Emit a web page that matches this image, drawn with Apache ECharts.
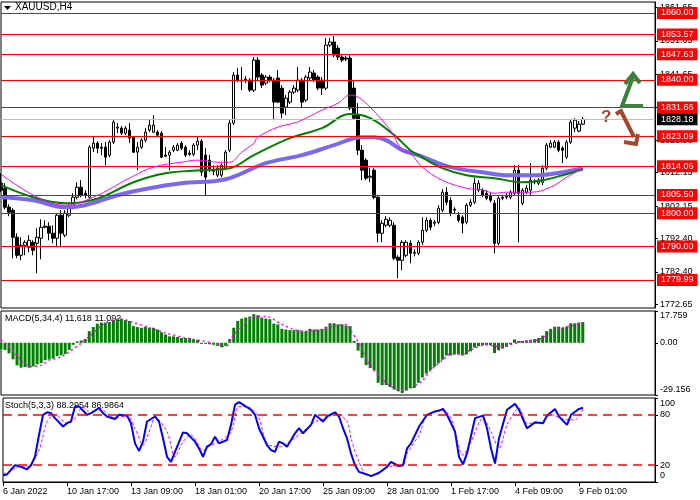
<!DOCTYPE html>
<html>
<head>
<meta charset="utf-8">
<script src="https://cdn.jsdelivr.net/npm/echarts@6/dist/echarts.min.js"></script>
<style>
  html, body { margin: 0; padding: 0; background: #fff; }
  #chart { width: 700px; height: 500px; }
</style>
</head>
<body>
<div id="chart"></div>
<script>
// XAUUSD H4 - candles [open, close, low, high], one per bar
var ohlc = [
  [1809.0,1806.9,1806.3,1812.0],[1807.5,1801.8,1801.2,1809.0],[1801.8,1800.3,1799.1,1802.7],[1800.9,1792.8,1786.5,1801.5],
  [1792.8,1787.4,1786.5,1794.0],[1787.4,1790.4,1785.9,1792.8],[1790.4,1791.3,1787.4,1791.9],[1789.8,1791.9,1788.3,1793.4],
  [1791.3,1788.9,1787.4,1791.9],[1791.0,1792.8,1782.0,1795.5],[1792.5,1795.8,1786.2,1798.2],[1795.8,1796.1,1795.5,1797.9],
  [1796.1,1794.0,1791.9,1797.3],[1794.0,1792.5,1791.0,1796.4],[1792.5,1799.4,1789.8,1800.0],[1799.4,1794.0,1789.8,1800.9],
  [1793.4,1800.0,1792.8,1800.9],[1799.4,1801.8,1798.8,1803.0],[1801.8,1804.8,1801.2,1806.0],[1804.8,1807.8,1804.2,1809.3],
  [1807.8,1805.4,1804.8,1809.9],[1806.0,1805.4,1804.5,1806.9],[1804.8,1819.8,1804.2,1820.4],[1819.5,1821.0,1818.3,1822.8],
  [1821.0,1819.5,1818.0,1821.6],[1819.8,1819.5,1817.4,1821.0],[1819.8,1816.8,1814.4,1821.3],[1817.4,1821.3,1816.8,1821.9],
  [1821.3,1827.3,1820.7,1827.9],[1825.5,1825.8,1824.0,1827.0],[1825.5,1824.0,1823.4,1826.1],[1824.0,1825.5,1823.4,1826.1],
  [1824.9,1822.5,1821.0,1827.0],[1822.8,1818.3,1818.0,1822.8],[1818.3,1819.8,1812.9,1821.3],[1819.8,1821.9,1819.2,1822.5],
  [1821.9,1824.3,1821.3,1825.5],[1824.9,1826.4,1824.3,1827.9],[1824.3,1826.4,1824.0,1829.4],[1824.3,1823.4,1822.8,1824.9],
  [1824.0,1816.8,1816.5,1824.6],[1817.4,1817.1,1816.8,1819.8],[1817.4,1818.3,1812.9,1818.9],[1818.9,1819.8,1818.3,1820.4],
  [1818.9,1820.4,1818.6,1821.0],[1821.0,1819.5,1818.9,1821.6],[1819.8,1817.4,1816.8,1820.4],[1818.0,1817.7,1817.1,1818.9],
  [1817.7,1820.4,1817.1,1821.0],[1820.4,1821.6,1818.9,1822.8],[1821.6,1812.3,1811.1,1822.2],[1817.4,1810.8,1805.4,1819.5],
  [1815.9,1812.9,1812.3,1817.4],[1812.9,1812.6,1811.4,1814.4],[1811.4,1813.5,1810.8,1814.4],[1811.4,1814.4,1810.8,1815.0],
  [1813.5,1818.3,1812.9,1818.9],[1818.9,1827.0,1818.3,1827.9],[1827.0,1841.4,1826.4,1842.3],[1841.4,1839.9,1839.3,1843.5],
  [1839.9,1839.6,1836.9,1843.8],[1839.9,1840.2,1839.0,1841.1],[1839.9,1836.9,1836.3,1840.5],[1836.9,1845.9,1836.3,1846.8],
  [1845.9,1840.8,1839.9,1846.8],[1841.4,1838.4,1837.5,1842.0],[1839.0,1840.8,1838.4,1841.4],[1840.8,1839.9,1839.3,1841.4],
  [1839.9,1833.3,1827.9,1840.5],[1840.5,1833.3,1833.0,1842.9],[1837.5,1830.0,1828.5,1838.4],[1831.8,1834.5,1829.4,1835.4],
  [1833.3,1836.3,1832.7,1836.9],[1836.3,1837.5,1835.7,1838.4],[1836.9,1839.9,1836.3,1843.8],[1839.9,1833.3,1831.5,1840.5],
  [1833.9,1840.8,1833.3,1841.4],[1840.5,1842.3,1839.9,1843.8],[1842.0,1839.9,1839.3,1842.9],[1840.8,1837.5,1836.9,1841.4],
  [1839.9,1837.5,1835.4,1840.8],[1837.5,1850.4,1836.9,1852.5],[1850.4,1851.3,1849.8,1852.5],[1851.3,1847.4,1846.8,1853.1],
  [1849.5,1846.8,1845.9,1850.4],[1846.8,1845.9,1845.3,1847.4],[1846.5,1846.2,1845.6,1847.1],[1846.5,1831.5,1830.9,1847.4],
  [1837.5,1828.5,1827.9,1839.9],[1829.4,1818.9,1817.4,1833.0],[1818.9,1812.9,1809.9,1820.4],[1815.9,1810.5,1809.9,1816.5],
  [1810.8,1811.1,1809.3,1813.5],[1812.9,1804.8,1804.2,1813.5],[1804.8,1794.0,1791.3,1805.4],[1794.0,1797.0,1791.3,1797.9],
  [1796.4,1798.2,1795.8,1799.1],[1796.4,1797.9,1795.8,1798.8],[1796.4,1786.5,1785.9,1797.3],[1786.8,1785.9,1780.5,1787.4],
  [1785.9,1791.3,1782.9,1791.9],[1787.4,1791.3,1786.8,1791.9],[1791.0,1788.0,1785.0,1791.9],[1788.0,1788.3,1787.1,1789.2],
  [1788.0,1791.3,1787.4,1791.9],[1791.3,1794.9,1790.4,1798.8],[1794.9,1797.9,1794.3,1798.8],[1797.9,1795.8,1794.9,1798.5],
  [1797.0,1797.3,1796.1,1797.9],[1797.3,1801.5,1796.7,1802.4],[1800.9,1806.3,1800.3,1807.2],[1806.3,1803.3,1802.4,1807.8],
  [1803.9,1800.0,1799.1,1804.8],[1800.9,1801.2,1800.0,1801.8],[1799.4,1797.9,1797.3,1800.3],[1798.8,1797.0,1794.0,1799.4],
  [1797.3,1802.4,1796.7,1803.0],[1802.4,1803.3,1801.8,1804.2],[1803.3,1809.0,1802.7,1810.5],[1806.9,1809.0,1806.3,1809.9],
  [1806.9,1805.4,1804.8,1807.5],[1806.0,1804.5,1803.9,1806.9],[1805.4,1803.9,1803.3,1806.0],[1803.0,1791.0,1788.0,1803.9],
  [1791.0,1804.5,1790.4,1805.1],[1804.5,1804.8,1803.9,1805.4],[1804.8,1805.1,1804.2,1806.0],[1804.8,1806.3,1804.2,1806.9],
  [1806.0,1812.9,1805.4,1814.4],[1812.9,1806.0,1791.3,1814.4],[1803.0,1806.9,1802.4,1807.5],[1806.3,1807.5,1805.7,1808.4],
  [1806.9,1809.9,1805.4,1815.0],[1809.3,1809.6,1808.7,1810.2],[1809.0,1809.9,1808.4,1810.5],[1809.3,1813.5,1808.4,1814.4],
  [1813.5,1820.4,1812.9,1821.0],[1819.8,1821.0,1819.5,1821.9],[1819.8,1821.3,1819.5,1821.9],[1821.3,1818.9,1818.3,1821.9],
  [1819.5,1818.9,1815.0,1820.1],[1816.8,1821.3,1816.2,1821.9],[1821.3,1827.3,1820.7,1828.2],[1825.5,1827.9,1824.3,1828.5],
  [1824.6,1826.7,1824.3,1827.6],[1826.7,1828.18,1826.4,1828.8]
];

// moving averages as [bar, price]
var maFast = [[0,1811.7],[9,1804.8],[16,1802.4],[23,1804.8],[32,1810.5],[38,1813.8],[45,1815.3],[49,1815.9],[54,1815.3],
  [57,1815.3],[60,1818.3],[63,1821.0],[64,1822.8],[69,1825.8],[73,1827.0],[75,1827.9],[80,1830.9],[84,1833.0],[87,1835.4],
  [89,1834.8],[92,1831.8],[97,1824.9],[100,1818.9],[102,1818.0],[105,1813.8],[110,1809.9],[116,1807.5],[120,1807.0],
  [123,1806.0],[126,1806.3],[132,1806.3],[137,1807.8],[141,1810.8],[145,1813.5]];
var maMid = [[0,1808.4],[8,1804.8],[16,1803.0],[20,1803.3],[25,1804.8],[33,1809.3],[41,1812.0],[50,1812.9],[57,1813.5],
  [63,1817.4],[72,1822.5],[80,1825.5],[87,1829.7],[92,1828.5],[98,1823.4],[102,1818.9],[104,1817.4],[110,1813.5],
  [116,1811.4],[123,1810.5],[130,1809.3],[135,1809.9],[140,1811.4],[145,1813.2]];
var maSlow = [[0,1804.8],[8,1803.9],[16,1801.8],[21,1802.4],[29,1805.4],[37,1807.5],[45,1809.0],[56,1810.2],[66,1815.0],
  [75,1817.4],[83,1820.4],[90,1822.8],[93,1822.8],[96,1821.9],[100,1818.9],[104,1817.4],[112,1813.8],[120,1812.3],
  [126,1811.4],[134,1811.4],[140,1812.3],[145,1813.5]];

// MACD(5,34,4) histogram, one per bar
var macdHist = [-3.6,-4.0,-5.9,-9.2,-12.6,-13.9,-13.5,-13.9,-13.2,-12.0,-11.3,-9.7,-9.3,-8.8,-7.4,-6.9,-6.3,-4.0,-1.1,0.8,
  1.3,2.1,6.5,8.8,10.7,11.3,11.3,11.6,12.8,13.2,13.5,12.8,12.2,9.3,8.8,8.4,8.8,8.4,8.4,7.4,
  5.9,4.6,3.6,3.6,3.2,2.7,2.7,2.7,2.1,1.7,-0.6,-0.6,-0.8,-1.1,-1.7,-2.5,-1.7,2.1,8.4,12.2,
  13.5,14.1,14.7,16.0,15.4,14.1,13.5,13.2,10.7,10.3,7.8,7.4,7.1,7.1,7.1,6.5,6.5,7.8,7.4,7.4,
  7.8,9.0,10.9,10.9,10.3,10.3,9.7,9.3,1.0,-4.4,-8.4,-12.4,-14.1,-15.3,-22.3,-23.6,-23.6,-24.8,-26.1,-27.1,
  -28.0,-26.7,-25.4,-25.2,-22.3,-19.4,-17.2,-15.3,-13.4,-11.4,-9.5,-7.1,-7.1,-6.5,-6.5,-7.1,-6.5,-4.8,-2.7,-1.9,
  -1.3,-1.3,-1.3,-5.7,-4.2,-3.2,-2.3,-0.8,1.9,1.0,1.0,1.3,1.7,2.1,2.7,4.0,6.5,7.8,9.0,9.0,
  8.4,9.0,10.9,10.9,11.3,11.618];
var macdSignal = [[0,1.7],[2,-2.1],[5,-9.7],[7,-13.2],[10,-12.6],[12,-9.7],[15,-7.8],[17,-5.0],[20,-0.2],[22,3.6],
  [25,9.3],[27,12.2],[30,13.2],[33,11.3],[37,8.4],[41,5.5],[46,2.7],[50,1.1],[53,-0.2],[56,-2.1],[58,4.6],[61,11.3],
  [63,14.5],[66,14.7],[70,10.3],[73,7.4],[76,6.5],[80,7.4],[83,9.3],[86,10.3],[87,7.4],[89,0.6],[90,-4.0],[92,-12.6],
  [95,-20.2],[97,-24.0],[100,-26.5],[102,-25.4],[105,-21.2],[107,-15.4],[110,-9.7],[112,-6.3],[115,-6.3],[117,-4.0],
  [121,-1.1],[124,-2.1],[127,-1.1],[130,0.8],[134,1.7],[137,5.5],[140,8.4],[144,10.3],[145,11.092]];

// Stoch(5,3,3)
var stochMain = [[0,8],[1,9],[3,20],[4,19],[6,15],[7,20],[8,30],[9,56],[10,80],[11,83],[12,82],[13,76],[15,66],[16,70],
  [17,72],[18,90],[19,90],[21,80],[22,82],[24,88],[25,82],[26,78],[28,75],[29,80],[31,79],[32,70],[33,46],[34,37],
  [35,48],[36,72],[38,78],[39,72],[40,52],[41,30],[42,24],[43,36],[45,59],[46,58],[48,48],[49,40],[50,30],[51,42],
  [52,45],[53,54],[54,46],[56,50],[57,68],[58,92],[59,95],[60,92],[62,86],[63,80],[64,64],[66,44],[67,38],[68,36],
  [69,48],[70,46],[71,42],[73,58],[74,64],[75,58],[77,68],[78,80],[80,72],[81,78],[83,83],[84,78],[85,64],[86,52],
  [87,34],[88,20],[89,12],[91,9],[92,7],[94,11],[96,18],[97,24],[99,19],[100,20],[101,40],[102,46],[103,56],[104,66],
  [106,80],[107,82],[108,84],[109,85],[110,87],[111,80],[113,60],[114,30],[115,21],[116,34],[118,76],[120,79],[121,64],
  [122,40],[123,22],[124,52],[126,86],[128,93],[129,86],[131,64],[133,71],[135,70],[136,79],[138,87],[139,78],[141,68],
  [142,80],[144,87],[145,88.2954]];
var stochSignal = [[0,10],[1,11],[4,18],[6,18],[9,38],[11,72],[13,80],[16,70],[18,76],[20,89],[22,82],[24,88],[26,82],
  [28,76],[31,79],[33,64],[35,44],[37,66],[38,77],[41,60],[43,30],[45,48],[47,56],[50,38],[52,44],[54,48],[57,60],
  [59,90],[62,88],[64,76],[66,46],[69,42],[71,46],[75,60],[78,72],[81,76],[83,82],[86,72],[87,52],[89,24],[91,8],
  [94,10],[96,18],[100,20],[101,34],[104,56],[106,79],[110,85],[112,76],[115,32],[117,48],[120,76],[122,60],[124,40],
  [126,68],[129,88],[131,70],[134,70],[137,80],[141,74],[143,74],[145,86.9864]];

var priceTicks = [1861.65, 1851.65, 1841.65, 1831.65, 1821.90, 1812.15, 1802.15, 1792.40, 1782.40, 1772.65];
var levels = [1860.00, 1853.57, 1847.63, 1840.00, 1831.66, 1823.09, 1814.06, 1805.50, 1800.00, 1790.00, 1779.99];
var lastPrice = 1828.18;
var macdTicks = [-29.156, 0, 17.759];
var stochTicks = [0, 20, 80, 100];
var xTickLabels = ['6 Jan 2022', '10 Jan 17:00', '13 Jan 09:00', '18 Jan 01:00', '20 Jan 17:00',
  '25 Jan 09:00', '28 Jan 01:00', '1 Feb 17:00', '4 Feb 09:00', '9 Feb 01:00'];
var xTickStep = 16;
var totalSlots = 164; // bars plus the empty shift on the right

var FONT = 'Liberation Sans';
var categories = [];
for (var i = 0; i < totalSlots; i++) {
  categories.push(i % xTickStep === 0 && i / xTickStep < xTickLabels.length ? xTickLabels[i / xTickStep] : '');
}
function tickInt(index) {
  return index % xTickStep === 0 && index / xTickStep < xTickLabels.length;
}

var levelLines = levels.map(function (v) {
  return { yAxis: v };
});
levelLines.push({
  yAxis: lastPrice,
  lineStyle: { color: '#c0c0c0', width: 1, type: 'solid' },
  label: { backgroundColor: '#000', color: '#fff' }
});

var chart = echarts.init(document.getElementById('chart'));
var option = {
  animation: false,
  backgroundColor: '#fff',
  textStyle: { fontFamily: FONT },
  grid: [
    { left: 1, top: 2, width: 654, height: 306, show: true, borderColor: '#000', borderWidth: 1 },
    { left: 1, top: 311, width: 654, height: 84, show: true, borderColor: '#000', borderWidth: 1 },
    { left: 1, top: 398, width: 654, height: 84, show: true, borderColor: '#000', borderWidth: 1 }
  ],
  xAxis: [0, 1, 2].map(function (g) {
    return {
      type: 'category', gridIndex: g, data: categories, boundaryGap: false,
      axisLine: { show: g === 2, lineStyle: { color: '#000' } },
      axisTick: { show: g === 2, length: 4, interval: tickInt, lineStyle: { color: '#000' } },
      axisLabel: { show: g === 2, interval: tickInt, align: 'left', margin: 5,
        fontSize: 9, color: '#000', fontFamily: FONT },
      splitLine: { show: false }
    };
  }),
  yAxis: [
    {
      type: 'value', gridIndex: 0, position: 'right', min: 1771.6, max: 1863.3,
      axisLine: { show: true, lineStyle: { color: '#000' } },
      axisTick: { show: true, length: 3, customValues: priceTicks, lineStyle: { color: '#000' } },
      axisLabel: { customValues: priceTicks, margin: 5, fontSize: 9, color: '#000', fontFamily: FONT,
        formatter: function (v) { return v.toFixed(2); } },
      splitLine: { show: false }
    },
    {
      type: 'value', gridIndex: 1, position: 'right', min: -29.156, max: 17.759,
      axisLine: { show: true, lineStyle: { color: '#000' } },
      axisTick: { show: true, length: 3, customValues: macdTicks, lineStyle: { color: '#000' } },
      axisLabel: { customValues: macdTicks, margin: 5, fontSize: 9, color: '#000', fontFamily: FONT,
        formatter: function (v) {
          if (v === 0) return '{m|0.00}';
          return v > 0 ? '{dn|' + v.toFixed(3) + '}' : '{up|' + v.toFixed(3) + '}';
        },
        rich: {
          m: { fontSize: 9, color: '#000', fontFamily: FONT },
          dn: { fontSize: 9, color: '#000', fontFamily: FONT, padding: [10, 0, 0, 0] },
          up: { fontSize: 9, color: '#000', fontFamily: FONT, padding: [0, 0, 10, 0] }
        } },
      splitLine: { show: false }
    },
    {
      type: 'value', gridIndex: 2, position: 'right', min: 0, max: 100,
      axisLine: { show: true, lineStyle: { color: '#000' } },
      axisTick: { show: true, length: 3, customValues: stochTicks, lineStyle: { color: '#000' } },
      axisLabel: { customValues: stochTicks, margin: 5, fontSize: 9, color: '#000', fontFamily: FONT,
        formatter: function (v) {
          if (v === 100) return '{dn|100}';
          if (v === 0) return '{up|0}';
          return '{m|' + v + '}';
        },
        rich: {
          m: { fontSize: 9, color: '#000', fontFamily: FONT },
          dn: { fontSize: 9, color: '#000', fontFamily: FONT, padding: [12, 0, 0, 0] },
          up: { fontSize: 9, color: '#000', fontFamily: FONT, padding: [0, 0, 12, 0] }
        } },
      splitLine: { show: false }
    }
  ],
  series: [
    {
      type: 'candlestick', xAxisIndex: 0, yAxisIndex: 0, data: ohlc, barWidth: 3, z: 2,
      itemStyle: { color: '#fff', color0: '#000', borderColor: '#000', borderColor0: '#000', borderWidth: 1 },
      markLine: {
        silent: true, symbol: 'none', animation: false,
        lineStyle: { color: '#ff0000', width: 1, type: 'solid' },
        label: {
          show: true, position: 'end', distance: 2,
          formatter: function (p) { return p.value.toFixed(2); },
          color: '#fff', backgroundColor: '#ff0000', padding: [1, 4, 1, 4],
          fontSize: 9, lineHeight: 10, fontFamily: FONT
        },
        data: levelLines
      }
    },
    { type: 'line', xAxisIndex: 0, yAxisIndex: 0, data: maSlow, smooth: 0.4, symbol: 'none', z: 3,
      lineStyle: { color: '#7b68ee', width: 4 } },
    { type: 'line', xAxisIndex: 0, yAxisIndex: 0, data: maMid, smooth: 0.4, symbol: 'none', z: 4,
      lineStyle: { color: '#008000', width: 2 } },
    { type: 'line', xAxisIndex: 0, yAxisIndex: 0, data: maFast, smooth: 0.4, symbol: 'none', z: 5,
      lineStyle: { color: '#ff00ff', width: 1 } },
    { type: 'bar', xAxisIndex: 1, yAxisIndex: 1, data: macdHist, barWidth: 3,
      itemStyle: { color: '#008000' } },
    { type: 'line', xAxisIndex: 1, yAxisIndex: 1, data: macdSignal, smooth: 0.3, symbol: 'none', z: 4,
      lineStyle: { color: '#ff00ff', width: 1.5, type: [2, 3] } },
    {
      type: 'line', xAxisIndex: 2, yAxisIndex: 2, data: stochMain, symbol: 'none', z: 4,
      lineStyle: { color: '#0000ff', width: 2 },
      markLine: {
        silent: true, symbol: 'none', animation: false, label: { show: false },
        lineStyle: { color: '#ff0000', width: 1.5, type: [9, 6] },
        data: [{ yAxis: 80 }, { yAxis: 20 }]
      }
    },
    { type: 'line', xAxisIndex: 2, yAxisIndex: 2, data: stochSignal, smooth: 0.3, symbol: 'none', z: 3,
      lineStyle: { color: '#ff00ff', width: 1, type: [3, 2] } }
  ],
  graphic: [
    { type: 'polygon', shape: { points: [[4, 6], [11, 6], [7.5, 10]] }, style: { fill: '#000' } },
    { type: 'text', left: 15, top: 2, style: { text: 'XAUUSD,H4', fontSize: 10, fontFamily: FONT, fill: '#000' } },
    { type: 'text', left: 5, top: 314, style: { text: 'MACD(5,34,4) 11.618 11.092', fontSize: 9, fontFamily: FONT, fill: '#000' } },
    { type: 'text', left: 5, top: 401, style: { text: 'Stoch(5,3,3) 88.2954 86.9864', fontSize: 9, fontFamily: FONT, fill: '#000' } },
    // green up arrow
    { type: 'polyline', z: 100, shape: { points: [[643, 106], [622, 106], [633, 77]] },
      style: { stroke: '#3d7f3d', lineWidth: 4, fill: null, lineJoin: 'miter' } },
    { type: 'polyline', z: 100, shape: { points: [[625, 84], [633, 74], [640, 83]] },
      style: { stroke: '#3d7f3d', lineWidth: 4, fill: null, lineJoin: 'miter' } },
    // brown down arrow
    { type: 'polyline', z: 100, shape: { points: [[616, 114], [621, 111], [634, 137]] },
      style: { stroke: '#a5482a', lineWidth: 4, fill: null, lineJoin: 'miter' } },
    { type: 'polyline', z: 100, shape: { points: [[624, 142], [636, 144], [638, 134]] },
      style: { stroke: '#a5482a', lineWidth: 4, fill: null, lineJoin: 'miter' } },
    { type: 'text', z: 100, left: 601, top: 109, style: { text: '?', fontSize: 17, fontWeight: 'bold', fontFamily: FONT, fill: '#a5482a' } }
  ]
};
chart.setOption(option);
</script>
</body>
</html>
